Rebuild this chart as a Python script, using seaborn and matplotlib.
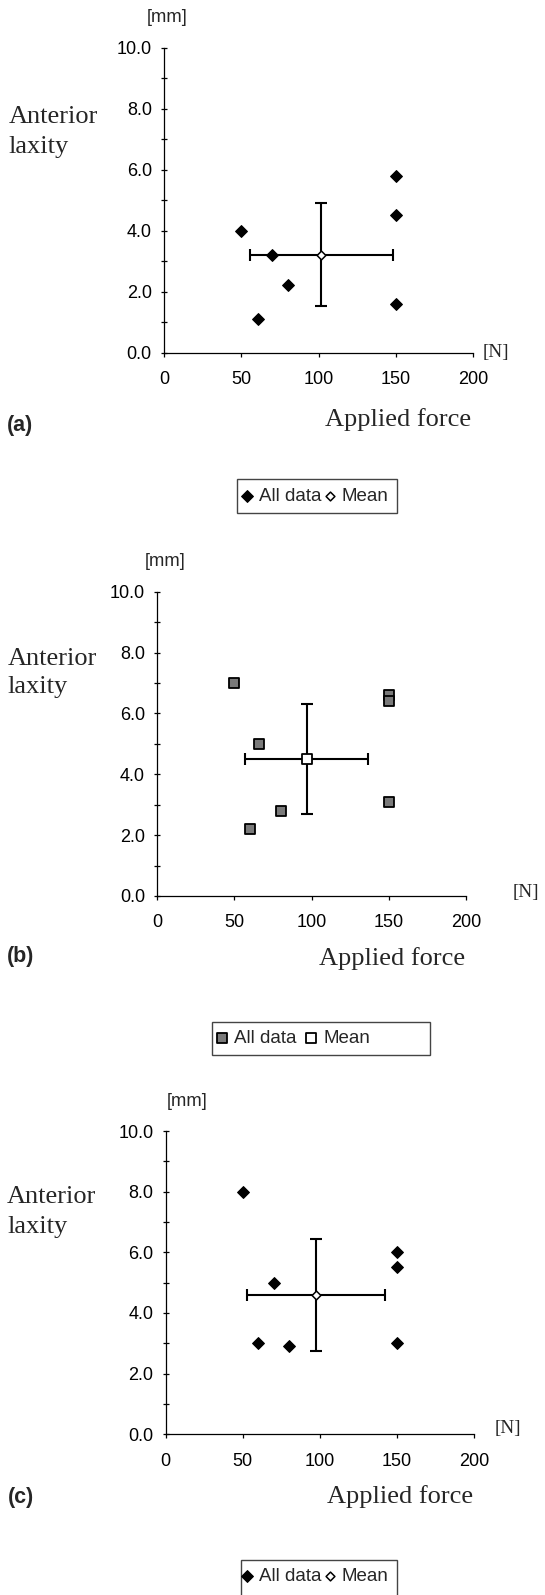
import numpy as np
import pandas as pd
import matplotlib
matplotlib.use("Agg")
import matplotlib.pyplot as plt
import seaborn as sns
from matplotlib.patches import Rectangle
from matplotlib.ticker import FormatStrFormatter, FixedLocator

# ---------------- data ----------------
panel_labels = ["(a)", "(b)", "(c)"]
legend_labels = ["All data", "Mean"]
x_ticks = [0, 50, 100, 150, 200]
y_ticks = [0.0, 2.0, 4.0, 6.0, 8.0, 10.0]

force_a = [50, 61, 70, 80, 150, 150, 150]
laxity_a = [4.0, 1.1, 3.2, 2.2, 5.8, 4.5, 1.6]
force_b = [50, 60, 66, 80, 150, 150, 150]
laxity_b = [7.0, 2.2, 5.0, 2.8, 6.6, 6.4, 3.1]
force_c = [50, 60, 70, 80, 150, 150, 150]
laxity_c = [8.0, 3.0, 5.0, 2.9, 6.0, 5.5, 3.0]

mean_force = [101.6, 96.8, 97.5]
mean_laxity = [3.2, 4.5, 4.6]
sd_force = [46.3, 40.0, 44.8]
sd_laxity = [1.69, 1.80, 1.84]

all_force = [force_a, force_b, force_c]
all_laxity = [laxity_a, laxity_b, laxity_c]

# ---------------- layout (pixels) ----------------
W, H = 545, 1595
sns.set_style("ticks")
plt.rcParams["font.family"] = ["Liberation Sans", "DejaVu Sans"]

fig = plt.figure(figsize=(W / 100, H / 100), dpi=100)

def fx(px):
    return px / W

def fy(py):
    return 1 - py / H

layout = [
    dict(ax=(164, 47.7, 473.3, 352.5), mm=(167, 21.7), ant=(8.3, 123.3), lax=(8.3, 153.3),
         N=(483, 356.7), af=(325, 426.5), lab=(7.3, 430.7),
         box=(236.7, 479.3, 397, 513.3), legc=(240, 496.5), colsp=0.1),
    dict(ax=(157.3, 591.8, 466, 896), mm=(164.8, 565.7), ant=(7.9, 664.6), lax=(7.9, 693.2),
         N=(513, 897.3), af=(319, 965), lab=(6.4, 962),
         box=(211.7, 1021.7, 430, 1055), legc=(215, 1038.8), colsp=0.45),
    dict(ax=(165.7, 1131, 474, 1434.3), mm=(187, 1105.5), ant=(7.1, 1202.8), lax=(7.1, 1232.9),
         N=(495, 1432.7), af=(326.7, 1503.3), lab=(7.8, 1503),
         box=(240.7, 1560, 397, 1600), legc=(240, 1576), colsp=0.1),
]

for i in range(3):
    L = layout[i]
    x0, y0, x1, y1 = L["ax"]
    ax = fig.add_axes([fx(x0), fy(y1), (x1 - x0) / W, (y1 - y0) / H])
    ax.set_facecolor("white")

    df = pd.DataFrame({"force": all_force[i], "laxity": all_laxity[i]})
    dm = pd.DataFrame({"force": [mean_force[i]], "laxity": [mean_laxity[i]]})

    ax.errorbar(mean_force[i], mean_laxity[i], xerr=sd_force[i], yerr=sd_laxity[i],
                fmt="none", ecolor="black", elinewidth=1.5, capsize=4.0, capthick=1.5,
                zorder=2)

    if i == 1:
        sns.scatterplot(data=df, x="force", y="laxity", marker="s", s=52,
                        color="#7a7a7a", edgecolor="black", linewidth=1.3,
                        ax=ax, legend=False, zorder=3)
        h_all = ax.collections[-1]
        sns.scatterplot(data=dm, x="force", y="laxity", marker="s", s=42,
                        color="white", edgecolor="black", linewidth=1.3,
                        ax=ax, legend=False, zorder=4)
        h_mean = ax.collections[-1]
    else:
        sns.scatterplot(data=df, x="force", y="laxity", marker="D", s=36,
                        color="black", edgecolor="black", linewidth=0.8,
                        ax=ax, legend=False, zorder=3)
        h_all = ax.collections[-1]
        sns.scatterplot(data=dm, x="force", y="laxity", marker="D", s=20,
                        color="white", edgecolor="black", linewidth=1.1,
                        ax=ax, legend=False, zorder=4)
        h_mean = ax.collections[-1]

    ax.set_xlim(0, 200)
    ax.set_ylim(0, 10)
    ax.xaxis.set_major_locator(FixedLocator(x_ticks))
    ax.yaxis.set_major_locator(FixedLocator(y_ticks))
    ax.yaxis.set_minor_locator(FixedLocator([1, 3, 5, 7, 9]))
    ax.yaxis.set_major_formatter(FormatStrFormatter("%.1f"))
    ax.set_xlabel("")
    ax.set_ylabel("")
    sns.despine(ax=ax)
    for sp in ("left", "bottom"):
        ax.spines[sp].set_linewidth(0.9)
        ax.spines[sp].set_color("black")
    ax.tick_params(axis="y", which="both", direction="inout", length=5, width=0.9,
                   pad=6.3, labelsize=13, colors="black")
    ax.tick_params(axis="x", which="major", direction="out", length=3.2, width=0.9,
                   pad=10.0, labelsize=13, colors="black")
    for t in ax.get_xticklabels() + ax.get_yticklabels():
        t.set_family("Liberation Sans")

    # texts
    fig.text(fx(L["mm"][0]), fy(L["mm"][1]), "[mm]", ha="center", va="baseline",
             fontsize=13.2, family="Liberation Sans")
    fig.text(fx(L["ant"][0]), fy(L["ant"][1]), "Anterior", ha="left", va="baseline",
             fontsize=19, family="Liberation Serif")
    fig.text(fx(L["lax"][0]), fy(L["lax"][1]), "laxity", ha="left", va="baseline",
             fontsize=19, family="Liberation Serif")
    fig.text(fx(L["N"][0]), fy(L["N"][1]), "[N]", ha="left", va="baseline",
             fontsize=13.8, family="Liberation Serif")
    fig.text(fx(L["af"][0]), fy(L["af"][1]), "Applied force", ha="left", va="baseline",
             fontsize=19, family="Liberation Serif")
    fig.text(fx(L["lab"][0]), fy(L["lab"][1]), panel_labels[i], ha="left", va="baseline",
             fontsize=15.5, fontweight="bold", family="Liberation Sans")

    # legend
    bx0, by0, bx1, by1 = L["box"]
    fig.add_artist(Rectangle((fx(bx0), fy(by1)), (bx1 - bx0) / W, (by1 - by0) / H,
                             transform=fig.transFigure, fill=False,
                             edgecolor="#444444", linewidth=1.0))
    fig.legend(handles=[h_all, h_mean], labels=legend_labels, loc="center left",
               bbox_to_anchor=(fx(L["legc"][0]), fy(L["legc"][1])),
               bbox_transform=fig.transFigure, ncol=2, frameon=False,
               handlelength=0.7, handletextpad=0.3, columnspacing=L["colsp"],
               borderpad=0, borderaxespad=0, scatterpoints=1,
               prop={"family": "Liberation Sans", "size": 13.5})

fig.savefig("out.png", dpi=100, facecolor="white")
